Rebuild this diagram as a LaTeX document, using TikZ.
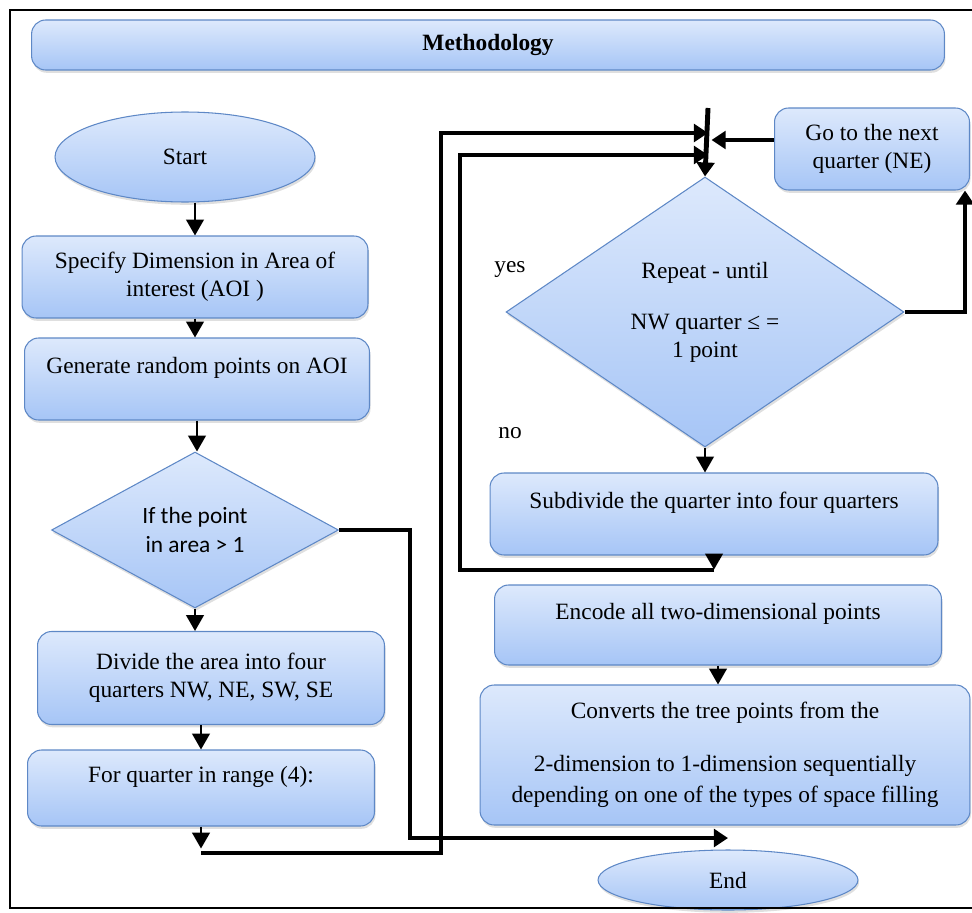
\documentclass[tikz,border=0pt]{standalone}
\usepackage{fontspec}
\setmainfont{Liberation Serif}
\newfontfamily\calibri{Carlito}
\usepackage{tikz}
\usetikzlibrary{shapes.geometric,arrows.meta,shadows}

\definecolor{boxtop}{HTML}{DDE9FC}
\definecolor{boxbot}{HTML}{A6C5F6}
\definecolor{boxline}{HTML}{5E88C6}

\tikzset{
  box/.style={draw=boxline, line width=0.6pt, rounded corners=8pt,
    top color=boxtop, bottom color=boxbot, align=center, inner sep=2pt,
    drop shadow={opacity=0.25, shadow xshift=0.6pt, shadow yshift=-1.6pt}},
  oval/.style={box, ellipse, rounded corners=0pt},
  decision/.style={box, diamond, rounded corners=0pt, inner sep=0pt},
  tip/.style={line width=1.2pt, -{Triangle[length=9pt,width=10pt]}},
  flow/.style={line width=2.8pt, -{Triangle[length=8pt,width=10pt]}},
}

\begin{document}
\fontsize{13.3}{16}\selectfont
\begin{tikzpicture}[x=0.02cm,y=-0.02cm]
%\draw[very thin,lightgray] (0,0) grid[step=50] (972,912);
\useasboundingbox (0,0) rectangle (972,912);

\node[box, minimum width=18.26cm, minimum height=1cm, font=\bfseries] (title) at (488,45) {Methodology};

% left column
\node[oval, minimum width=5.2cm, minimum height=1.8cm] (start) at (185,157) {Start};
\node[box, minimum width=6.92cm, minimum height=1.64cm] (spec) at (195,277) {Specify Dimension in Area of\\interest (AOI )};
\node[box, minimum width=6.9cm, minimum height=1.64cm] (gen) at (197,379) {Generate random points on AOI\\ \mbox{}};
\node[decision, minimum width=5.74cm, minimum height=3.12cm, font=\calibri] (cond) at (195,530) {If the point\\in area > 1};
\node[box, minimum width=6.94cm, minimum height=1.86cm] (divide) at (211,678) {Divide the area into four\\quarters NW, NE, SW, SE};
\node[box, minimum width=6.94cm, minimum height=1.52cm] (quarter) at (201,788) {For quarter in range (4):\\ \mbox{}};

% right column
\node[box, minimum width=3.9cm, minimum height=1.64cm] (next) at (872,149) {Go to the next\\quarter (NE)};
\node[decision, minimum width=7.96cm, minimum height=5.4cm] (repeat) at (705,312) {Repeat - until\\[13pt]NW quarter ≤ =\\1 point};
\node[box, minimum width=8.96cm, minimum height=1.64cm] (subdiv) at (714,514) {Subdivide the quarter into four quarters\\ \mbox{}};
\node[box, minimum width=8.94cm, minimum height=1.6cm] (encode) at (718,625) {Encode all two-dimensional points\\ \mbox{}};
\node[box, minimum width=9.8cm, minimum height=2.8cm] (convert) at (725,755) {Converts the tree points from the\\[14pt]2-dimension to 1-dimension sequentially\\[2pt]depending on one of the types of space filling};
\node[oval, minimum width=5.2cm, minimum height=1.2cm] (end) at (728,880) {End};

\node (yes) at (510,270) {yes};
\node (no) at (510,433) {no};

\coordinate (join) at (708,108);
\coordinate (inA) at (708,133);
\coordinate (inB) at (708,155);
\coordinate (bendA) at (441,853);
\coordinate (bendB) at (460,570);
\coordinate (bendC) at (410,838);

\draw[tip] (start.south -| spec.north) -- (spec.north);
\draw[tip] (spec.south) -- (spec.south |- gen.north);
\draw[tip] (gen.south) -- (gen.south |- cond.north);
\draw[tip] (cond.south) -- (cond.south |- divide.north);
\draw[tip] (divide.south -| quarter.north) -- (quarter.north);
\draw[tip] (quarter.south) -- ++(0,22);
\draw[tip] (subdiv.south) -- ++(0,14);
\draw[tip] (repeat.south) -- (repeat.south |- subdiv.north);
\draw[tip] (encode.south) -- (encode.south |- convert.north);

\draw[flow] (quarter.south |- bendA) -| (inA -| bendA) -- (inA);
\draw[flow] (subdiv.south |- bendB) -| (inB -| bendB) -- (inB);
\draw[flow] (cond.east) -| (bendC) -- (bendC -| end.north);
\draw[flow, shorten >=2pt] ([yshift=0.18cm]next.west) -- ([yshift=0.18cm]next.west -| join);
\draw[flow] (join) -- (repeat.north);
\draw[flow] (repeat.east) -| ([xshift=-0.1cm]next.south east);

\draw[line width=1.6pt] (10,10) rectangle (985,908);
\end{tikzpicture}
\end{document}
